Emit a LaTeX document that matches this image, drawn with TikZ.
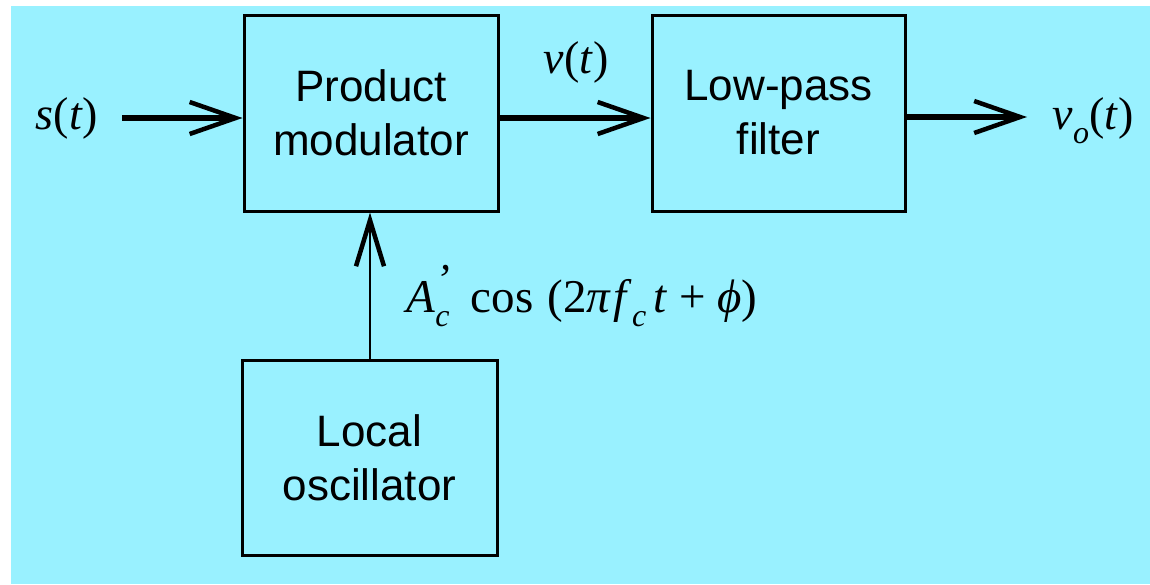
\documentclass[tikz,border=0pt]{standalone}
\usepackage{fontspec}
\setmainfont{Liberation Sans}
\newfontfamily\tms{Liberation Serif}
\usetikzlibrary{arrows.meta}
\definecolor{bgcyan}{HTML}{99F1FF}
\newcommand{\subsz}[1]{\raisebox{-.3em}{\fontsize{32}{32}\selectfont\textit{#1}}}
\begin{document}
\begin{tikzpicture}[x=1pt,y=-1pt,
  blk/.style={draw, line width=3pt, inner sep=0pt, align=center,
    font=\fontsize{44}{54}\selectfont},
  thickarr/.style={line width=5.5pt, -{Straight Barb[length=46pt,width=32pt,line width=4.5pt]}},
  thinarr/.style={line width=2pt, -{Straight Barb[length=46pt,width=28pt,line width=4.5pt]}},
  lab/.style={font=\tms\fontsize{46}{50}\selectfont, inner sep=0pt}]
\useasboundingbox (0,0) rectangle (1150,584);
\fill[white] (0,0) rectangle (1150,584);
\fill[bgcyan] (11,6) rectangle (1150,584);
\node[blk, minimum width=254pt, minimum height=196pt] (pm) at (371,113) {Product\\modulator};
\node[blk, minimum width=253pt, minimum height=196pt] (lpf) at (778.5,113) {Low-pass\\filter};
\node[blk, minimum width=255pt, minimum height=195pt] (lo) at (369.5,457.5) {Local\\oscillator};
\coordinate (sin) at (122,118);
\coordinate (out) at (1027,117);
\coordinate (vx) at (370,300);
\node[lab] (slab) at (67,118) {\textit{s}(\textit{t})};
\node[lab] (vlab) at (576,62) {\textit{v}(\textit{t})};
\node[lab] (volab) at (1093,121) {\textit{v}\subsz{o}(\textit{t})};
\node[lab, font=\tms\fontsize{47}{50}\selectfont] (clab) at (582,296)
  {\textit{A}\rlap{\raisebox{.38em}{\fontsize{44}{44}\selectfont\textit{’}}}\subsz{c}\hspace{.45em}cos\hspace{.3em}(2\textit{π}\hspace{.05em}\textit{f}\subsz{c}\hspace{.15em}\textit{t}\hspace{.25em}+\hspace{.25em}\textit{ϕ})};
\draw[thickarr] (sin) -- (sin -| pm.west);
\draw[thickarr] (pm.east |- sin) -- (lpf.west |- sin);
\draw[thickarr] (lpf.east |- out) -- (out);
\draw[thinarr] (lo.north -| vx) -- (pm.south -| vx);
\end{tikzpicture}
\end{document}
